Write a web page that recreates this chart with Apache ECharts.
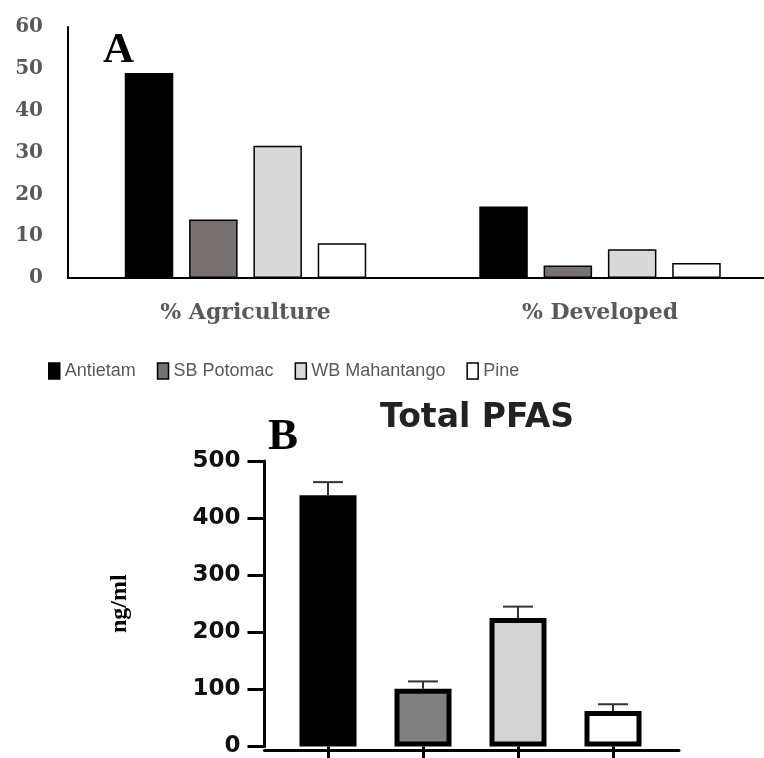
<!DOCTYPE html>
<html>
<head>
<meta charset="utf-8">
<script src="https://cdn.jsdelivr.net/npm/echarts@6/dist/echarts.min.js"></script>
<style>html,body{margin:0;padding:0;background:#fff}#c{width:764px;height:758px}</style>
</head>
<body>
<div id="c"></div>
<script>
// Panel A data
const landCategories = ['% Agriculture', '% Developed'];
const siteNames = ['Antietam', 'SB Potomac', 'WB Mahantango', 'Pine'];
const antietamLand = [49, 17.1];
const sbPotomacLand = [14, 3.0];
const wbMahantangoLand = [31.6, 6.9];
const pineLand = [8.3, 3.6];
const landTicks = [0, 10, 20, 30, 40, 50, 60];

// Panel B data
const pfasSites = ['Antietam', 'SB Potomac', 'WB Mahantango', 'Pine'];
const pfasMean = [440, 101, 225, 62];
const pfasUpper = [463, 114, 245, 74];
const pfasTicks = [0, 100, 200, 300, 400, 500];

const topColors = ['#000000', '#777171', '#d9d9d9', '#ffffff'];
const botColors = ['#000000', '#808080', '#d4d4d4', '#ffffff'];
const landSeries = [antietamLand, sbPotomacLand, wbMahantangoLand, pineLand];

const chart = echarts.init(document.getElementById('c'), null, {renderer: 'canvas'});

const serifBold = {fontFamily: 'DejaVu Serif', fontWeight: 'bold', color: '#595959'};

const series = landSeries.map((vals, i) => ({
  name: siteNames[i],
  type: 'bar',
  xAxisIndex: 0,
  yAxisIndex: 0,
  data: vals,
  barWidth: 48.5,
  barGap: '32.6%',
  itemStyle: {color: topColors[i], borderColor: '#000', borderWidth: 1.5},
  silent: true
}));

series.push({
  type: 'bar',
  xAxisIndex: 1,
  yAxisIndex: 1,
  barWidth: 57,
  data: pfasMean.map((v, i) => ({value: v, itemStyle: {color: botColors[i], borderColor: '#000', borderWidth: 5}})),
  silent: true
});

series.push({
  type: 'custom',
  xAxisIndex: 1,
  yAxisIndex: 1,
  data: pfasMean.map((v, i) => [i, v, pfasUpper[i]]),
  z: 3,
  silent: true,
  renderItem: function (params, api) {
    const p0 = api.coord([api.value(0), api.value(1)]);
    const p1 = api.coord([api.value(0), api.value(2)]);
    const half = 15;
    const st = {stroke: '#333', lineWidth: 2};
    return {type: 'group', children: [
      {type: 'line', shape: {x1: p0[0], y1: p0[1], x2: p1[0], y2: p1[1]}, style: st},
      {type: 'line', shape: {x1: p1[0] - half, y1: p1[1], x2: p1[0] + half, y2: p1[1]}, style: st}
    ]};
  }
});

const option = {
  animation: false,
  backgroundColor: '#fff',
  title: [
    {text: 'A', left: 98, top: 24, textStyle: {fontFamily: 'Liberation Serif', fontWeight: 'bold', fontSize: 43, color: '#000'}},
    {text: 'B', left: 263, top: 410, textStyle: {fontFamily: 'Liberation Serif', fontWeight: 'bold', fontSize: 45, color: '#000'}},
    {text: 'Total PFAS', left: 472, top: 397, textAlign: 'center', textStyle: {fontFamily: 'DejaVu Sans', fontWeight: 'bold', fontSize: 33, color: '#222'}}
  ],
  legend: {
    data: siteNames,
    left: 48,
    top: 362,
    padding: 0,
    icon: 'rect',
    itemWidth: 11,
    itemHeight: 16,
    itemGap: 21,
    itemStyle: {borderColor: '#000', borderWidth: 1.5},
    textStyle: {fontFamily: 'Liberation Sans', fontSize: 18, color: '#595959'},
    selectedMode: false
  },
  grid: [
    {left: 245.5, top: 27, width: 354.5, height: 251},
    {left: 280.5, top: 461, width: 380, height: 289},
    {left: 264.5, top: 461, width: 414.5, height: 289},
    {left: 68, top: 27, width: 696, height: 251}
  ],
  xAxis: [
    {
      type: 'category', gridIndex: 0, data: landCategories, boundaryGap: false,
      axisLine: {show: false},
      axisTick: {show: false},
      axisLabel: Object.assign({fontSize: 22, margin: 24, interval: 0}, serifBold)
    },
    {
      type: 'category', gridIndex: 1, data: pfasSites,
      axisLine: {show: false},
      axisTick: {show: true, interval: 0, alignWithLabel: true, length: 12, lineStyle: {color: '#000', width: 3}},
      axisLabel: {show: false}
    },
    {
      type: 'value', gridIndex: 2, min: 0, max: 1,
      axisLine: {show: true, lineStyle: {color: '#000', width: 3}},
      axisTick: {show: false}, axisLabel: {show: false}, splitLine: {show: false}
    },
    {
      type: 'value', gridIndex: 3, min: 0, max: 1,
      axisLine: {show: true, lineStyle: {color: '#000', width: 2}},
      axisTick: {show: false}, axisLabel: {show: false}, splitLine: {show: false}
    }
  ],
  yAxis: [
    {
      type: 'value', gridIndex: 0, min: landTicks[0], max: landTicks[landTicks.length - 1], interval: 10,
      offset: 177.5,
      axisLine: {show: true, lineStyle: {color: '#000', width: 2}},
      axisTick: {show: false},
      splitLine: {show: false},
      axisLabel: Object.assign({fontSize: 20, margin: 25}, serifBold)
    },
    {
      type: 'value', gridIndex: 1, min: pfasTicks[0], max: pfasTicks[pfasTicks.length - 1], interval: 100,
      offset: 16,
      axisLine: {show: true, lineStyle: {color: '#000', width: 3}},
      axisTick: {show: true, length: 17, lineStyle: {color: '#000', width: 3}},
      splitLine: {show: false},
      axisLabel: {fontFamily: 'DejaVu Sans', fontWeight: 'bold', fontSize: 23, color: '#111', margin: 24},
      name: 'ng/ml', nameLocation: 'middle', nameGap: 133, nameRotate: 90,
      nameTextStyle: {fontFamily: 'Liberation Serif', fontWeight: 'bold', fontSize: 24, color: '#000'}
    },
    {type: 'value', gridIndex: 2, min: 0, max: 1, show: false},
    {type: 'value', gridIndex: 3, min: 0, max: 1, show: false}
  ],
  series: series
};

chart.setOption(option);
</script>
</body>
</html>
